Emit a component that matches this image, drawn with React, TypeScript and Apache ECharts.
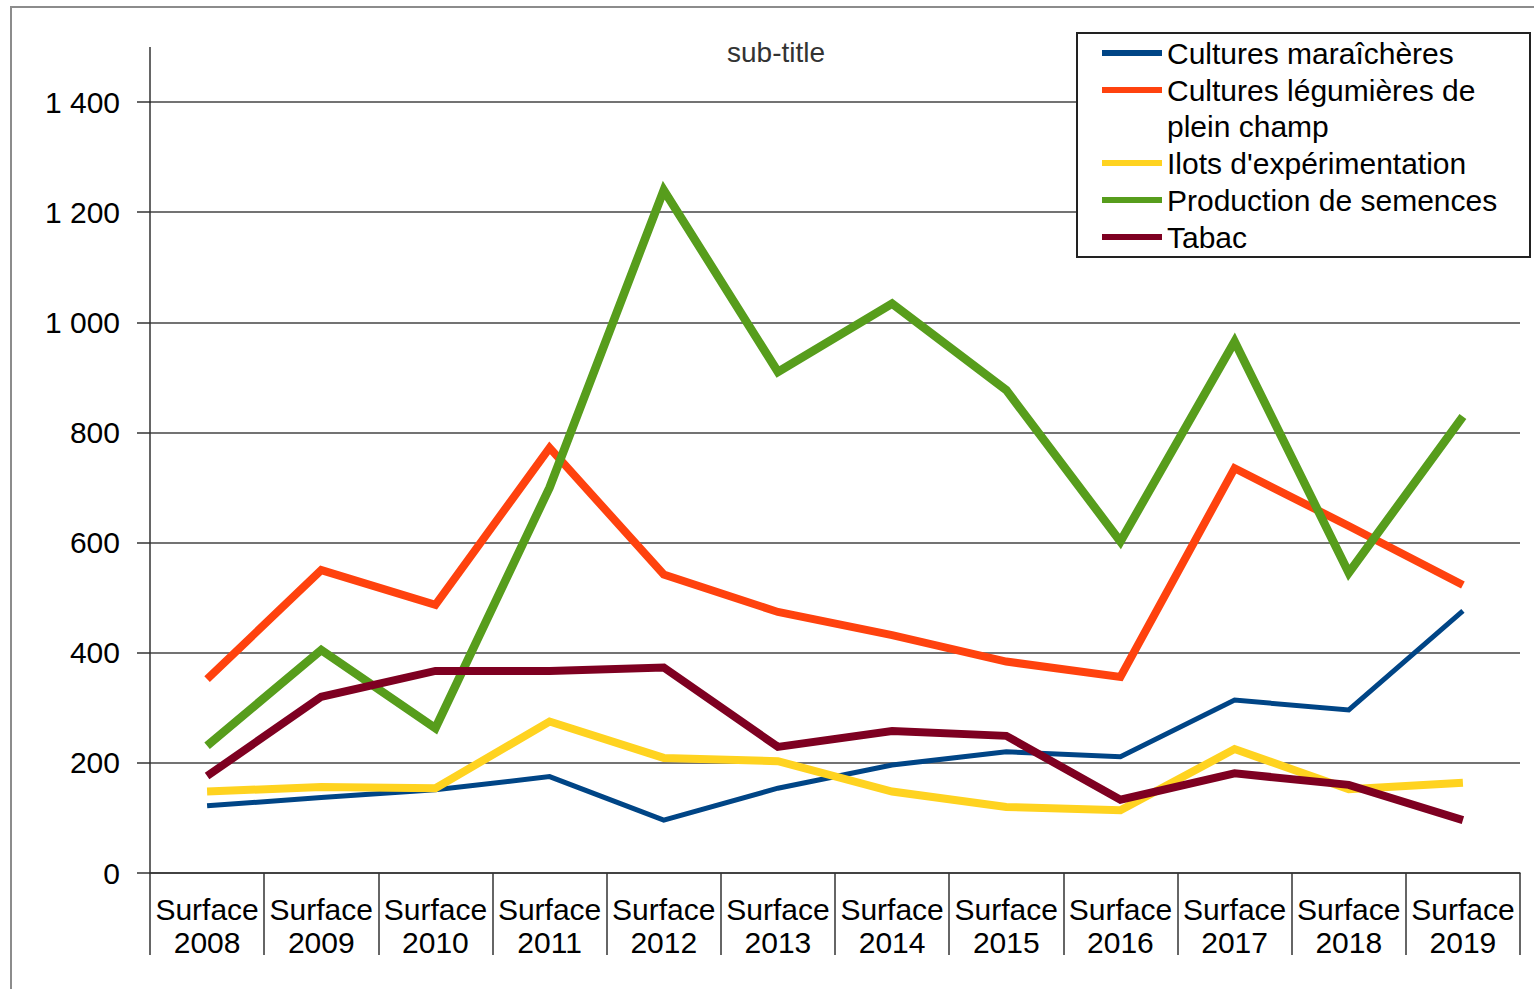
import React, { useEffect, useRef } from "react";
import * as echarts from "echarts";

const categories = [
  "Surface\n2008", "Surface\n2009", "Surface\n2010", "Surface\n2011",
  "Surface\n2012", "Surface\n2013", "Surface\n2014", "Surface\n2015",
  "Surface\n2016", "Surface\n2017", "Surface\n2018", "Surface\n2019",
];

const seriesNames = [
  "Cultures maraîchères",
  "Cultures légumières de plein champ",
  "Ilots d'expérimentation",
  "Production de semences",
  "Tabac",
];

const maraicheres = [122, 137, 151, 175, 96, 154, 196, 220, 211, 314, 296, 476];
const legumieres = [352, 550, 487, 772, 542, 474, 432, 384, 356, 735, 630, 523];
const ilots = [148, 156, 154, 275, 209, 203, 148, 120, 114, 225, 152, 164];
const semences = [231, 405, 263, 700, 1240, 910, 1034, 877, 602, 965, 545, 829];
const tabac = [176, 320, 367, 367, 373, 229, 258, 249, 133, 181, 160, 96];

const seriesData = [maraicheres, legumieres, ilots, semences, tabac];
const colors = ["#004586", "#ff420e", "#ffd320", "#579d1c", "#7e0021"];
const widths = [5, 8, 8, 8.5, 8];

const FONT = "'Liberation Sans', Arial, sans-serif";

export default function App() {
  const ref = useRef<HTMLDivElement>(null);

  useEffect(() => {
    if (!ref.current) return;
    const chart = echarts.init(ref.current, null, { renderer: "svg" });
    const legendText = {
      fontSize: 30,
      lineHeight: 37,
      color: "#000",
      fontFamily: FONT,
    };
    chart.setOption({
      animation: false,
      backgroundColor: "#fff",
      textStyle: { fontFamily: FONT },
      title: {
        text: "sub-title",
        left: 722,
        top: 33,
        textStyle: { fontSize: 28, fontWeight: "normal", color: "#333", fontFamily: FONT },
      },
      grid: { left: 150, right: 14, top: 102, bottom: 116, containLabel: false },
      legend: [
        {
          orient: "vertical",
          left: 1102,
          top: 34.5,
          padding: 0,
          itemGap: 0,
          itemWidth: 60,
          itemHeight: 6,
          icon: "rect",
          z: 10,
          data: [seriesNames[0], seriesNames[1]],
          formatter: (n: string) => (n === seriesNames[1] ? "Cultures légumières de" : n),
          textStyle: legendText,
          selectedMode: false,
        },
        {
          orient: "vertical",
          left: 1102,
          top: 144.5,
          padding: 0,
          itemGap: 0,
          itemWidth: 60,
          itemHeight: 6,
          icon: "rect",
          z: 10,
          data: [seriesNames[2], seriesNames[3], seriesNames[4]],
          textStyle: legendText,
          selectedMode: false,
        },
      ],
      xAxis: {
        type: "category",
        data: categories,
        boundaryGap: true,
        axisLine: { show: true, lineStyle: { color: "#333", width: 1.5 } },
        axisTick: { show: true, length: 82, inside: false, lineStyle: { color: "#333", width: 1.5 } },
        axisLabel: {
          margin: 20,
          fontSize: 30,
          lineHeight: 33,
          color: "#000",
          fontFamily: FONT,
          interval: 0,
        },
        splitLine: { show: false },
      },
      yAxis: {
        type: "value",
        min: 0,
        max: 1400,
        interval: 200,
        axisLine: { show: true, lineStyle: { color: "#333", width: 1.5 } },
        axisTick: { show: true, length: 13, lineStyle: { color: "#333", width: 1.5 } },
        axisLabel: {
          margin: 30,
          fontSize: 30,
          color: "#000",
          fontFamily: FONT,
          formatter: (v: number) => {
            const s = String(v);
            return s.length > 3 ? s.slice(0, s.length - 3) + " " + s.slice(-3) : s;
          },
        },
        splitLine: { show: true, lineStyle: { color: "#444", width: 1.5 } },
      },
      series: seriesNames.map((name, i) => ({
        name,
        type: "line",
        data: seriesData[i],
        symbol: "none",
        showSymbol: false,
        color: colors[i],
        lineStyle: { color: colors[i], width: widths[i], join: "miter" },
        z: 2 + i * 0.1,
      })),
      graphic: [
        {
          type: "rect",
          z: 0,
          silent: true,
          shape: { x: 11, y: 7, width: 1560, height: 1020 },
          style: { fill: "none", stroke: "#8c8c8c", lineWidth: 2 },
        },
        {
          type: "line",
          z: 5,
          silent: true,
          shape: { x1: 150, y1: 47, x2: 150, y2: 103 },
          style: { stroke: "#333", lineWidth: 1.5 },
        },
        {
          type: "rect",
          z: 5,
          silent: true,
          shape: { x: 1077, y: 33, width: 453, height: 224 },
          style: { fill: "#fff", stroke: "#222", lineWidth: 2 },
        },
        {
          type: "text",
          z: 11,
          silent: true,
          x: 1167,
          y: 126,
          style: {
            text: "plein champ",
            fontSize: 30,
            fontFamily: FONT,
            fill: "#000",
            verticalAlign: "middle",
            align: "left",
          },
        },
      ],
    });
    return () => chart.dispose();
  }, []);

  return (
    <div
      ref={ref}
      style={{ position: "fixed", left: 0, top: 0, width: 1534, height: 989, background: "#fff" }}
    />
  );
}
